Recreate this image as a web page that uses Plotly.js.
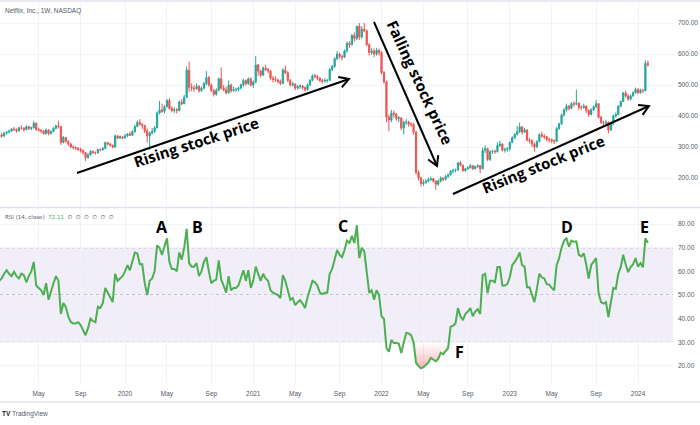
<!DOCTYPE html>
<html><head><meta charset="utf-8">
<script src="https://cdn.plot.ly/plotly-3.0.1.min.js"></script>
<style>html,body{margin:0;padding:0;background:#fff}#chart{width:700px;height:425px}</style>
</head><body><div id="chart"></div>
<script>
// Weekly bars, first bar week of 2019-01-14
const firstWeek = '2019-01-14';
const openP = [330,339,336,345,348,351,358,357,352,362,361,356,366,360,362,377,356,354,352,343,355,344,350,360,368,366,315,331,318,310,300,298,296,293,289,282,266,275,286,282,281,292,291,295,314,310,305,300,336,329,333,
329,336,342,338,349,366,380,373,369,352,336,345,350,362,410,420,415,430,450,425,418,420,418,445,440,460,548,493,490,488,496,482,490,505,524,500,482,470,483,520,490,485,475,500,482,485,486,490,500,515,505,520,
500,510,565,545,532,555,550,545,522,518,516,512,505,548,540,515,500,503,490,495,497,492,485,500,515,530,528,522,515,512,515,515,550,560,585,600,592,590,610,635,630,660,650,690,655,680,675,630,605,610,600,612,
605,540,510,397,387,410,406,392,394,361,380,381,374,373,348,218,200,182,186,190,195,198,190,180,190,200,196,205,210,222,225,226,249,241,224,230,233,240,230,237,240,230,289,295,260,285,286,285,305,310,290,292,
294,315,330,340,350,365,348,355,323,320,310,300,318,340,335,333,325,324,320,318,360,375,403,420,432,425,440,438,441,428,427,432,418,405,420,430,440,396,379,377,380,355,375,400,405,432,447,474,465,455,465,475,
486,475,483,482,570];
const highP = [345,345,348,352,356,362,365,360,365,370,364,370,368,366,385,380,362,358,354,360,357,354,364,372,385,368,336,333,322,314,306,303,300,298,292,284,280,290,289,286,295,296,300,318,317,313,308,340,338,337,336,
342,345,350,355,372,385,390,378,372,360,350,362,368,415,449,440,435,455,458,432,428,426,450,455,468,560,575,505,500,505,500,495,510,545,530,505,488,490,525,557,500,495,515,505,495,492,495,505,520,518,525,525,
515,593,568,550,560,565,556,548,530,528,522,518,555,563,545,520,510,506,500,502,500,495,505,520,535,536,532,525,520,522,520,555,565,590,610,605,598,615,640,642,665,670,690,700,690,700,680,636,620,618,620,618,
610,545,515,405,420,418,410,400,396,385,390,385,380,378,352,225,205,195,196,202,205,200,193,195,205,202,210,215,226,230,230,252,255,244,233,238,245,242,240,244,242,298,305,297,290,292,292,315,320,312,298,300,
318,335,345,368,379,368,362,358,330,325,315,322,345,350,342,336,330,328,325,365,378,408,425,440,436,445,448,485,445,435,440,435,422,425,435,452,442,400,385,388,382,380,405,412,435,450,478,482,470,470,480,492,
490,488,488,580,579];
const lowP = [328,330,332,340,344,349,352,346,350,356,350,354,355,354,360,352,350,345,340,341,338,340,348,357,360,307,312,314,305,296,292,290,286,282,275,255,262,272,278,276,279,286,288,293,306,302,296,298,325,326,325,
328,332,335,336,347,364,370,358,345,315,290,340,345,360,405,410,408,428,420,412,410,408,415,434,438,458,478,480,478,485,475,478,486,500,495,478,463,466,480,485,480,470,472,475,478,478,480,486,495,498,500,495,
490,505,530,525,530,545,538,515,508,510,505,500,503,535,510,495,495,484,485,488,485,478,482,498,512,522,515,510,505,508,508,513,545,556,580,585,580,588,605,620,628,640,645,645,650,670,625,595,598,590,595,595,
535,505,380,351,380,395,385,380,355,340,370,365,365,340,212,192,172,175,180,185,190,185,162,175,186,190,192,200,208,215,218,224,238,220,220,226,230,226,228,232,215,228,280,255,255,278,278,282,300,285,282,285,
288,312,325,338,345,340,345,318,312,300,285,298,315,330,325,318,315,312,310,316,355,372,398,415,418,422,430,435,420,420,424,410,398,402,416,426,392,375,370,372,344,352,370,395,402,428,445,460,448,450,462,472,
470,472,475,480,560];
const closeP = [339,336,345,348,351,358,357,352,362,361,356,366,360,362,377,356,354,352,343,355,344,350,360,368,366,315,331,318,310,300,298,296,293,289,282,266,275,286,282,281,292,291,295,314,310,305,300,336,329,333,329,
336,342,338,349,366,380,373,369,352,336,345,350,362,410,420,415,430,450,425,418,420,418,445,440,460,548,493,490,488,496,482,490,505,524,500,482,470,483,520,490,485,475,500,482,485,486,490,500,515,505,520,500,
510,565,545,532,555,550,545,522,518,516,512,505,548,540,515,500,503,490,495,497,492,485,500,515,530,528,522,515,512,515,515,550,560,585,600,592,590,610,635,630,660,650,690,655,680,675,630,605,610,600,612,605,
540,510,397,387,410,406,392,394,361,380,381,374,373,348,218,200,182,186,190,195,198,190,180,190,200,196,205,210,222,225,226,249,241,224,230,233,240,230,237,240,230,289,295,260,285,286,285,305,310,290,292,294,
315,330,340,350,365,348,355,323,320,310,300,318,340,335,333,325,324,320,318,360,375,403,420,432,425,440,438,441,428,427,432,418,405,420,430,440,396,379,377,380,355,375,400,405,432,447,474,465,455,465,475,486,
475,483,482,570,565];
const rsiValues = [56,57,59,60.5,59,58,59.8,58,57,59,58.4,55.4,58,60,64,54,53,52,50,55,48,52,55,58,56,42,46.6,45,41,38.6,38,38,38.5,37.3,35,33,36,40,39,38.5,45,44.5,46.6,53,51,49,47,59,56,57,58,
60,62.6,60.5,64,68,67.6,63,63,55,50,56,57,60,71,70,67,71,74,64,61,61,60,68,65,70,78,63.5,62,62,63.5,58,60,64,66,60,55,56,56.5,64.7,56.5,54,51,58,52,53,53,54,57,60.5,56,60.5,53,
56,62,59,56,59,57,56,52,51,50.5,50,48.7,58.4,56,52,48,48.7,45.7,47,47.8,46.4,44.5,49,53,56,55.4,54,51,50.4,51,51,59,61,65,69,67,66,69,73,72,75,72,79.5,65.6,70,68.6,59.7,51,52,48,52,50,
41,40,27.6,26,31,29.7,29.7,29.5,25.5,30,34,33.8,33,30,21.3,20,19,19.5,20.5,21.5,23.4,22.5,22,23,25.5,25,26.5,27.6,36.5,37,38,44.5,41,39.4,42,43,44.5,41,43,44,42,58.4,59,50.8,56,56,55.4,61.8,61.8,54,54,54.6,
57.5,62.6,64,65.6,68,62.6,62,53.3,53.3,50,47,52.6,59,57.5,57,54.6,54.4,53,52,62.6,65.6,70,73,74,70.4,73,72.5,72.7,67,66.3,67.6,63,57,62.6,64,65.6,50.8,47,46.4,47,40.7,47.8,53,52.6,59,61.8,67,63,59.7,61.8,63,65.6,
62,63.5,61.7,74,72.11];
const dateTicks = ['2019-05-06','2019-09-02','2020-01-06','2020-05-04','2020-09-07','2021-01-04','2021-05-03','2021-09-06','2022-01-03','2022-05-02','2022-09-05','2023-01-02','2023-05-01','2023-09-04','2024-01-01'];
const dateTickLabels = ['May','Sep','2020','May','Sep','2021','May','Sep','2022','May','Sep','2023','May','Sep','2024'];
const priceTicks = [200,300,400,500,600,700];
const rsiTicks = [20,30,40,50,60,70,80];
const rsiLevels = [70,50,30];

const weeks = [];
const t0 = Date.parse(firstWeek + 'T00:00:00Z');
for (let i = 0; i < closeP.length; i++) weeks.push(new Date(t0 + i*7*86400000).toISOString().slice(0,10));

const W = 673, H = 425;
const px = x => x / W, py = y => 1 - y / H;
const axisFont = {family:'Liberation Sans, Arial, sans-serif', size:6.5, color:'#555a66'};

const traces = [
  {type:'candlestick', x:weeks, open:openP, high:highP, low:lowP, close:closeP, xaxis:'x', yaxis:'y',
   increasing:{line:{color:'#26a69a',width:1}, fillcolor:'#26a69a'},
   decreasing:{line:{color:'#ef5350',width:1}, fillcolor:'#ef5350'},
   whiskerwidth:0, hoverinfo:'skip', showlegend:false},
  // overbought gradient
  {type:'scatter', mode:'lines', x:weeks, y:weeks.map(()=>70), xaxis:'x', yaxis:'y2', line:{width:0}, hoverinfo:'skip', showlegend:false},
  {type:'scatter', mode:'lines', x:weeks, y:rsiValues.map(v=>Math.max(v,70)), xaxis:'x', yaxis:'y2', line:{width:0}, fill:'tonexty',
   fillgradient:{type:'vertical', start:70, stop:100, colorscale:[[0,'rgba(76,175,80,0)'],[1,'rgba(76,175,80,1)']]}, hoverinfo:'skip', showlegend:false},
  // oversold gradient
  {type:'scatter', mode:'lines', x:weeks, y:weeks.map(()=>30), xaxis:'x', yaxis:'y2', line:{width:0}, hoverinfo:'skip', showlegend:false},
  {type:'scatter', mode:'lines', x:weeks, y:rsiValues.map(v=>Math.min(v,30)), xaxis:'x', yaxis:'y2', line:{width:0}, fill:'tonexty',
   fillgradient:{type:'vertical', start:0, stop:30, colorscale:[[0,'rgba(242,54,69,1)'],[1,'rgba(242,54,69,0)']]}, hoverinfo:'skip', showlegend:false},
  {type:'scatter', mode:'lines', x:weeks, y:rsiValues, xaxis:'x', yaxis:'y2', line:{color:'#4caf50', width:2}, hoverinfo:'skip', showlegend:false}
];

function arrowShapes(x0,y0,x1,y1){
  const dx=x1-x0, dy=y1-y0, L=Math.hypot(dx,dy);
  const ux=-dx/L, uy=-dy/L, a=Math.PI/6, s=11;
  const r = ang => [x1+s*(ux*Math.cos(ang)-uy*Math.sin(ang)), y1+s*(ux*Math.sin(ang)+uy*Math.cos(ang))];
  const p1=r(a), p2=r(-a);
  return [
    {type:'line', xref:'paper', yref:'paper', x0:px(x0), y0:py(y0), x1:px(x1), y1:py(y1), line:{color:'#000',width:2}},
    {type:'path', xref:'paper', yref:'paper', fillcolor:'rgba(0,0,0,0)',
     path:`M${px(p1[0])},${py(p1[1])} L${px(x1)},${py(y1)} L${px(p2[0])},${py(p2[1])}`, line:{color:'#000',width:2}}
  ];
}

const shapes = [
  {type:'rect', xref:'paper', yref:'y2', x0:0, x1:1, y0:30, y1:70, fillcolor:'rgba(126,87,194,0.1)', line:{width:0}, layer:'below'},
  ...rsiLevels.map(v => ({type:'line', xref:'paper', yref:'y2', x0:0, x1:1, y0:v, y1:v, line:{color:'#9598a1', width:1, dash:'3px,3px'}, layer:'between'})),
  {type:'line', xref:'paper', yref:'paper', x0:0, x1:700/W, y0:py(1), y1:py(1), line:{color:'#e0e3eb', width:1.5}},
  {type:'line', xref:'paper', yref:'paper', x0:0, x1:700/W, y0:py(207.5), y1:py(207.5), line:{color:'#e0e3eb', width:1.5}},
  {type:'line', xref:'paper', yref:'paper', x0:0, x1:700/W, y0:py(402), y1:py(402), line:{color:'#e0e3eb', width:1.5}},
  ...arrowShapes(77,173,349,79),
  ...arrowShapes(374,22,437,166),
  ...arrowShapes(453,194,649,106)
];

const bigFont = {family:'Open Sans, sans-serif', size:15, color:'#000'};
const letterFont = {family:'Open Sans, sans-serif', size:16, color:'#000'};
const ann = (x,y,text,font,angle,xa) => ({xref:'paper', yref:'paper', x:px(x), y:py(y), text, font, showarrow:false, textangle:angle||0, xanchor:xa||'center', yanchor:'middle'});
const annotations = [
  ann(196,142,'<b>Rising stock price</b>',bigFont,-18),
  ann(420,82,'<b>Falling stock price</b>',bigFont,65),
  ann(543,164,'<b>Rising stock price</b>',bigFont,-22),
  ann(162,227,'<b>A</b>',letterFont), ann(197,227,'<b>B</b>',letterFont), ann(343,226,'<b>C</b>',letterFont),
  ann(567,227,'<b>D</b>',letterFont), ann(644,227,'<b>E</b>',letterFont), ann(459,352,'<b>F</b>',letterFont),
  ann(3,11,'Netflix, Inc., 1W, NASDAQ',{family:'Liberation Sans, Arial, sans-serif', size:6.5, color:'#555a66'},0,'left'),
  ann(3,217.5,'RSI (14, close)  <span style="color:#4caf50">72.11</span>  ∅  ∅  ∅  ∅  ∅  ∅',{family:'DejaVu Sans, sans-serif', size:5.5, color:'#555a66'},0,'left'),
  ann(0,413.5,'<b style="color:#131722">TV</b> TradingView',{family:'Liberation Sans, Arial, sans-serif', size:6.5, color:'#555a66'},0,'left')
];

const layout = {
  width:700, height:425, margin:{l:0, r:27, t:0, b:0},
  paper_bgcolor:'#ffffff', plot_bgcolor:'rgba(0,0,0,0)', showlegend:false,
  xaxis:{type:'date', anchor:'y2', domain:[0,1], range:['2019-01-16 05:00','2024-04-09 07:00'],
    tickmode:'array', tickvals:dateTicks, ticktext:dateTickLabels, ticks:'', showgrid:true, gridcolor:'#f0f3fa', gridwidth:1,
    zeroline:false, showline:false, tickfont:axisFont, ticklabelstandoff:5, rangeslider:{visible:false}},
  yaxis:{domain:[py(207), py(2)], range:[106.5,768], side:'right', anchor:'x', tickmode:'array', tickvals:priceTicks,
    ticktext:priceTicks.map(v=>v.toFixed(2)), ticks:'', showgrid:true, gridcolor:'#f0f3fa', zeroline:false, showline:false,
    tickfont:axisFont, ticklabelstandoff:4},
  yaxis2:{domain:[py(383), py(208)], range:[12.8,86.8], side:'right', anchor:'x', tickmode:'array', tickvals:rsiTicks,
    ticktext:rsiTicks.map(v=>v.toFixed(2)), ticks:'', showgrid:true, gridcolor:'#f0f3fa', zeroline:false, showline:false,
    tickfont:axisFont, ticklabelstandoff:4},
  shapes, annotations
};

Plotly.newPlot('chart', traces, layout, {displayModeBar:false, staticPlot:true});
</script>
</body></html>
